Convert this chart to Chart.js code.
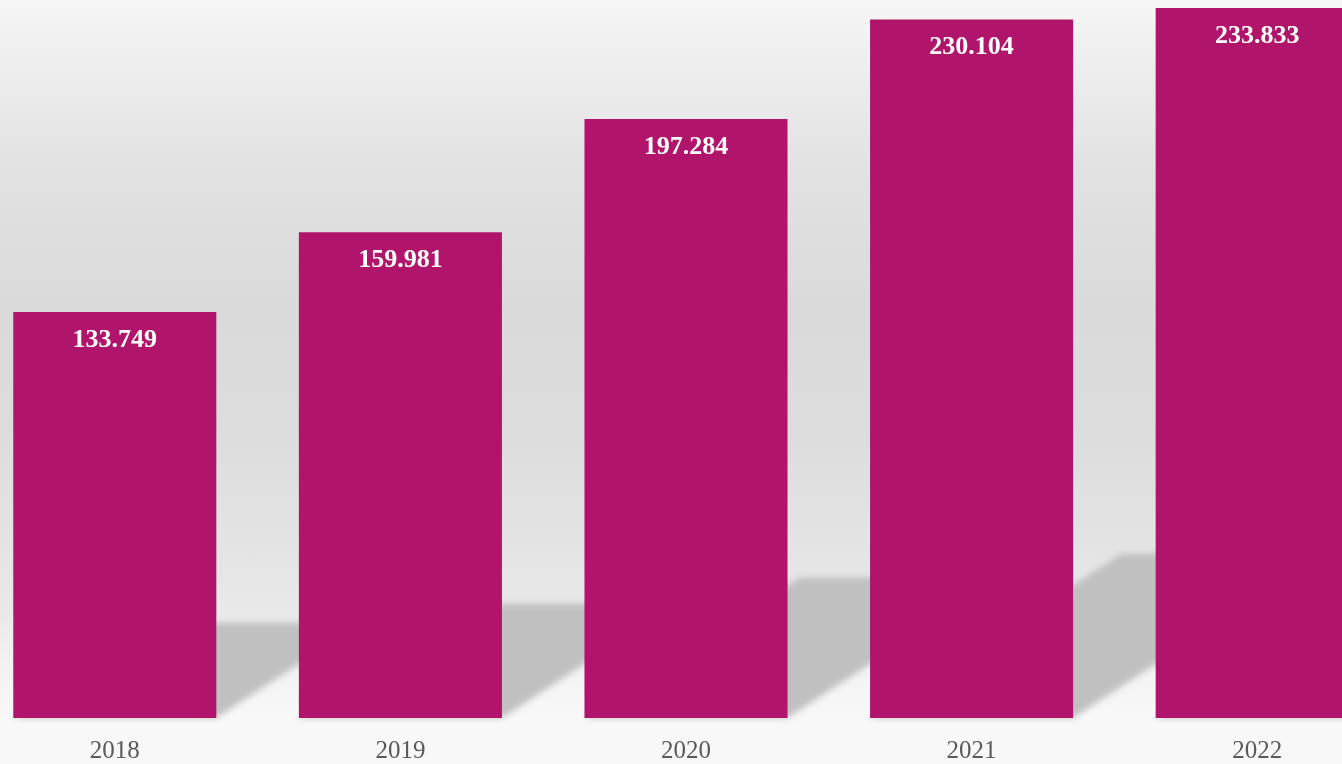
<!DOCTYPE html>
<html>
<head>
<meta charset="utf-8">
<script src="https://cdn.jsdelivr.net/npm/chart.js@4"></script>
<style>
    html, body {
        margin: 0;
        padding: 0;
        width: 1342px;
        height: 764px;
        overflow: hidden;
        background: linear-gradient(to bottom,
            #f6f6f6 0%, #f0f0f0 6%, #e2e2e2 22%, #dadada 40%,
            #dcdcdc 55%, #e4e4e4 72%, #e9e9e9 80%, #f2f2f2 87%, #f8f8f8 94%, #f8f8f8 100%);
    }
    #wrap {
        position: absolute;
        left: -28px;
        top: 0;
        width: 1428px;
        height: 764px;
    }
</style>
</head>
<body>
<div id="wrap"><canvas id="chart"></canvas></div>
<script>
    // Chart data
    const years = ['2018', '2019', '2020', '2021', '2022'];
    const values = [133.749, 159.981, 197.284, 230.104, 233.833];
    const valueLabels = ['133.749', '159.981', '197.284', '230.104', '233.833'];

    // Slanted shadows behind each bar
    const barShadows = {
        id: 'barShadows',
        beforeDatasetsDraw(chart) {
            const ctx = chart.ctx;
            const meta = chart.getDatasetMeta(0);
            ctx.save();
            ctx.filter = 'blur(3px)';
            ctx.fillStyle = '#c0c0c0';
            meta.data.forEach(function(bar) {
                const left = bar.x - bar.width / 2;
                const right = bar.x + bar.width / 2;
                const h = (bar.base - bar.y) * 0.235;
                const dx = h * 1.53;
                ctx.beginPath();
                ctx.moveTo(left, bar.base);
                ctx.lineTo(right, bar.base);
                ctx.lineTo(right + dx, bar.base - h);
                ctx.lineTo(left + dx, bar.base - h);
                ctx.closePath();
                ctx.fill();
            });
            ctx.restore();
        }
    };

    // Value labels inside top of bars
    const barValues = {
        id: 'barValues',
        afterDatasetsDraw(chart) {
            const ctx = chart.ctx;
            const meta = chart.getDatasetMeta(0);
            ctx.save();
            ctx.fillStyle = '#ffffff';
            ctx.font = 'bold 26px "Liberation Serif", serif';
            ctx.textAlign = 'center';
            ctx.textBaseline = 'middle';
            meta.data.forEach(function(bar, i) {
                ctx.fillText(valueLabels[i], bar.x, bar.y + 28);
            });
            ctx.restore();
        }
    };

    new Chart(document.getElementById('chart'), {
        type: 'bar',
        data: {
            labels: years,
            datasets: [{
                data: values,
                backgroundColor: '#b1146b',
                borderWidth: 0,
                categoryPercentage: 1,
                barPercentage: 0.711
            }]
        },
        options: {
            responsive: true,
            maintainAspectRatio: false,
            animation: false,
            layout: { padding: 0 },
            plugins: {
                legend: { display: false },
                tooltip: { enabled: false }
            },
            scales: {
                x: {
                    grid: { display: false },
                    border: { display: false },
                    ticks: {
                        color: '#5a5a5a',
                        padding: 10,
                        font: { family: '"Liberation Serif", serif', size: 25 }
                    },
                    afterFit: function(scale) {
                        scale.height = 46;
                    }
                },
                y: {
                    display: false,
                    min: 0,
                    max: 236.5
                }
            }
        },
        plugins: [barShadows, barValues]
    });
</script>
</body>
</html>
